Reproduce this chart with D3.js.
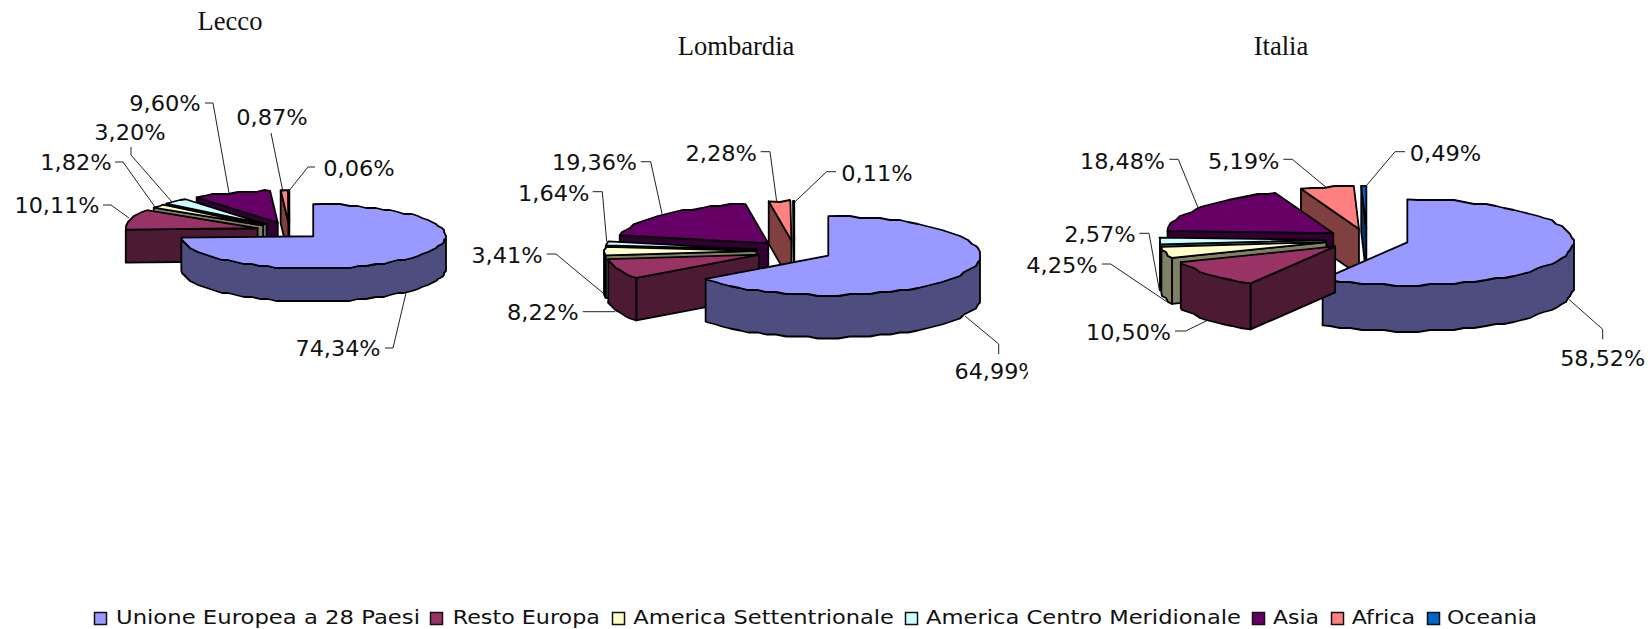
<!DOCTYPE html>
<html lang="en">
<head>
    <meta charset="UTF-8">
    <title>Lecco, Lombardia, Italia</title>
    <script src="https://d3js.org/d3.v7.min.js"></script>
    <style>
        html, body { margin: 0; padding: 0; background: #fff; overflow: hidden; }
        svg { display: block; }
        .label { font-family: "DejaVu Sans", sans-serif; font-size: 21.5px; fill: #111; text-anchor: middle; }
        .legend-text { font-family: "DejaVu Sans", sans-serif; font-size: 19.5px; fill: #111; }
        .title { font-family: "Liberation Serif", serif; font-size: 26.6px; fill: #111; text-anchor: middle; }
        .leader { fill: none; stroke: #222; stroke-width: 1; }
    </style>
</head>
<body>
<svg id="chart" width="1648" height="629"></svg>
<script>
    // data
    var categories = ["Unione Europea a 28 Paesi", "Resto Europa", "America Settentrionale", "America Centro Meridionale", "Asia", "Africa", "Oceania"];
    var colors = ["#9999FF", "#993366", "#FFFFCC", "#CCFFFF", "#660066", "#FF8080", "#0066CC"];
    var lecco = [74.34, 10.11, 1.82, 3.20, 9.60, 0.87, 0.06];
    var lombardia = [64.99, 8.22, 3.41, 1.64, 19.36, 2.28, 0.11];
    var italia = [58.52, 10.50, 4.25, 2.57, 18.48, 5.19, 0.49];

    // layout of each pie: centre, radii, thickness, explosion (horizontal / vertical)
    var panels = [
        {
            title: "Lecco", titleX: 230, titleY: 30, values: lecco,
            cx: 289.4, cy: 230.5, rx: 132, ry: 32, depth: 33, ex: 33, ey: 8.3,
            labelPos: [[338, 356], [57, 212.7], [76, 170], [130, 140], [165, 110.5], [272, 125], [359, 175.7]],
            leaders: [
                [[385, 348], [393, 348], [406, 293]],
                [[103, 205], [111, 205], [129, 218]],
                [[115, 162], [123, 162], [155, 207]],
                [[131, 147], [131, 155], [172, 202]],
                [[205, 103], [213, 103], [229, 193]],
                [[271, 133], [283, 192]],
                [[315, 167], [308, 167], [288, 192]]
            ]
        },
        {
            title: "Lombardia", titleX: 736, titleY: 55, values: lombardia,
            cx: 794.4, cy: 250.9, rx: 151.7, ry: 39.5, depth: 42.5, ex: 38, ey: 10.5,
            labelPos: [[997, 379.3], [542.8, 320], [507, 262.7], [553.7, 200.7], [594.5, 170], [721.2, 160.7], [877, 180.7]],
            leaders: [
                [[965, 316], [998.7, 344], [998.7, 354]],
                [[582.7, 311.7], [615, 311.7]],
                [[546.7, 254], [556, 254], [603.3, 293.3]],
                [[592.7, 191.7], [602.3, 191.7], [606.7, 241.7]],
                [[640.7, 161.7], [650.7, 161.7], [662.3, 215]],
                [[760.7, 151.7], [770, 151.7], [776.7, 201.7]],
                [[836, 171.7], [826.7, 171.7], [795, 201.7]]
            ],
            clipRight: 1028
        },
        {
            title: "Italia", titleX: 1281, titleY: 55, values: italia,
            cx: 1367, cy: 239.5, rx: 166, ry: 43, depth: 46, ex: 41.8, ey: 10.7,
            labelPos: [[1602.7, 366], [1128.5, 340], [1062, 273], [1100, 241.7], [1122.5, 169], [1243.7, 169], [1445.5, 161]],
            leaders: [
                [[1567.7, 298.3], [1602.7, 329.3], [1602.7, 339.3]],
                [[1175, 331], [1185.7, 331], [1206.7, 320.7]],
                [[1101.7, 264], [1110.7, 264], [1166.7, 301.7]],
                [[1139.3, 233.3], [1149, 233.3], [1159.3, 290]],
                [[1169.3, 159.3], [1178.3, 159.3], [1198.3, 208.3]],
                [[1283.3, 159.3], [1292.3, 159.3], [1326, 187.3]],
                [[1405, 151.7], [1395, 151.7], [1365, 187.3]]
            ]
        }
    ];

    // legend layout: swatch left, text left, text width
    var legendSwatchX = [94, 430, 612, 905, 1252, 1331, 1427];
    var legendTextX = [116, 452.7, 633.3, 926, 1273, 1351.7, 1447];
    var legendTextW = [304, 147.3, 260.7, 315, 46, 63.3, 90];

    var svg = d3.select("#chart");
    var pie = d3.pie().sort(null).value(d => d);
    var line = d3.line();
    var arcStep = Math.PI / 45;

    function wallColor(c) {
        var r = d3.rgb(c);
        return d3.rgb(r.r / 2, r.g / 2, r.b / 2).formatHex();
    }

    function drawPie(panel, i) {
        var g = svg.append("g").attr("class", "pie");
        var slices = pie(panel.values).map((s, j) => {
            s.color = colors[j];
            s.mid = (s.startAngle + s.endAngle) / 2;
            return s;
        });
        // back slices first, so the front ones cover them
        slices.slice().sort((a, b) => Math.cos(b.mid) - Math.cos(a.mid)).forEach(s => {
            // every slice is pulled out from the centre along its own middle angle
            var x = d3.scaleLinear().domain([-1, 1]).range([
                panel.cx + panel.ex * Math.sin(s.mid) - panel.rx,
                panel.cx + panel.ex * Math.sin(s.mid) + panel.rx]);
            var y = d3.scaleLinear().domain([-1, 1]).range([
                panel.cy - panel.ey * Math.cos(s.mid) + panel.ry,
                panel.cy - panel.ey * Math.cos(s.mid) - panel.ry]);
            var rim = a => [x(Math.sin(a)), y(Math.cos(a))];
            var apex = [x(0), y(0)];
            var down = p => [p[0], p[1] + panel.depth];

            var angles = d3.range(s.startAngle, s.endAngle, arcStep);
            angles.push(s.endAngle);
            // the original's rim is a bit stepped, so snap it to a coarse grid
            var arcPts = angles.map(rim).map((p, k) => (k === 0 || k === angles.length - 1)
                ? p : [Math.round(p[0] / 2) * 2, Math.round(p[1] / 2) * 2]);

            // radial walls, only those that face the viewer
            var walls = [];
            if (Math.sin(s.startAngle) < -0.001) walls.push([apex, rim(s.startAngle), down(rim(s.startAngle)), down(apex)]);
            if (Math.sin(s.endAngle) > 0.001) walls.push([apex, rim(s.endAngle), down(rim(s.endAngle)), down(apex)]);
            walls.forEach(w => {
                g.append("path").attr("d", line(w) + "Z")
                    .attr("fill", wallColor(s.color)).attr("stroke", "#000")
                    .attr("stroke-width", 1.8).attr("stroke-linejoin", "round");
            });
            // outer wall only where the rim faces the viewer
            var front = arcPts.filter((p, k) => Math.cos(angles[k]) <= 0.02);
            if (front.length > 1) {
                var outer = front.concat(front.slice().reverse().map(down));
                g.append("path").attr("d", line(outer) + "Z")
                    .attr("fill", wallColor(s.color)).attr("stroke", "#000")
                    .attr("stroke-width", 1.8).attr("stroke-linejoin", "round");
            }
            g.append("path").attr("d", line([apex].concat(arcPts)) + "Z")
                .attr("fill", s.color).attr("stroke", "#000")
                .attr("stroke-width", 1.8).attr("stroke-linejoin", "round");
        });

        g.selectAll("path.leader")
            .data(panel.leaders)
            .join("path")
            .attr("class", "leader")
            .attr("d", d => line(d));

        var labels = g.append("g");
        if (panel.clipRight) {
            svg.append("clipPath").attr("id", "clip" + i)
                .append("rect").attr("x", 0).attr("y", 0).attr("width", panel.clipRight).attr("height", 629);
            labels.attr("clip-path", `url(#clip${i})`);
        }
        labels.selectAll("text")
            .data(panel.values)
            .join("text")
            .attr("class", "label")
            .attr("x", (d, j) => panel.labelPos[j][0])
            .attr("y", (d, j) => panel.labelPos[j][1])
            .attr("textLength", d => d >= 10 ? 85 : 71.5)
            .attr("lengthAdjust", "spacingAndGlyphs")
            .text(d => d.toFixed(2).replace(".", ",") + "%");

        svg.append("text").attr("class", "title")
            .attr("x", panel.titleX).attr("y", panel.titleY).text(panel.title);
    }

    panels.forEach(drawPie);

    var legend = svg.append("g");
    legend.selectAll("rect")
        .data(categories)
        .join("rect")
        .attr("x", (d, i) => legendSwatchX[i] + 0.5)
        .attr("y", 612.5)
        .attr("width", 12)
        .attr("height", 12)
        .attr("fill", (d, i) => colors[i])
        .attr("stroke", "#111")
        .attr("stroke-width", 1.5);
    legend.selectAll("text")
        .data(categories)
        .join("text")
        .attr("class", "legend-text")
        .attr("x", (d, i) => legendTextX[i])
        .attr("y", 624.3)
        .attr("textLength", (d, i) => legendTextW[i])
        .attr("lengthAdjust", "spacingAndGlyphs")
        .text(d => d);
</script>
</body>
</html>
